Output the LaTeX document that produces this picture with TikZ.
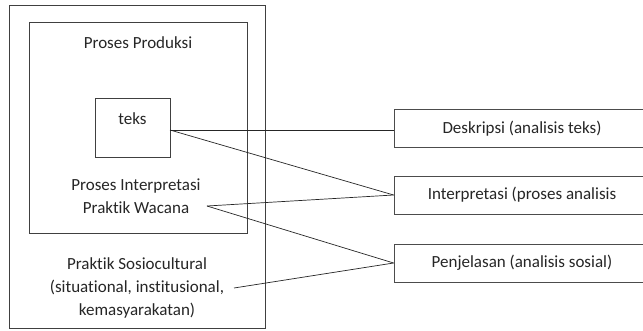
\documentclass[tikz,border=0pt]{standalone}
\usepackage{fontspec}
\setmainfont{Carlito}[Ligatures=NoCommon]
\begin{document}
\begin{tikzpicture}[x=1pt,y=-1pt,
  box/.style={draw=black!75,line width=0.8pt},
  lbl/.style={font=\fontsize{17}{23}\selectfont,text=black!85,inner sep=0pt,align=center},
  rbox/.style={draw=black!70,line width=0.8pt,minimum width=256pt,minimum height=38pt,inner sep=0pt,font=\fontsize{17}{19}\selectfont,text=black!85},
  conn/.style={draw=black!85,line width=0.7pt}]
\useasboundingbox (0,0) rectangle (643,330);
\clip (0,0) rectangle (643,330);
\fill[white] (0,0) rectangle (643,330);
% boxes
\draw[box] (9,5) rectangle (265,328);
\draw[box] (29,22) rectangle (247,233);
\node[box,minimum width=75pt,minimum height=59pt,inner sep=0pt] (teks) at (132.5,127.5) {};
\node[lbl] (teksT) at (132.5,119) {teks};
\node[lbl] (prod) at (138,43) {Proses Produksi};
\node[lbl] (interpT) at (136,196) {Proses Interpretasi\\Praktik Wacana};
\node[lbl] (socio) at (137,287.5) {Praktik Sosiocultural\\(situational, institusional,\hspace*{26pt}\\kemasyarakatan)};
% right boxes
\node[rbox] (desk) at (522,128.5) {Deskripsi (analisis teks)};
\node[rbox] (interp) at (522,195) {Interpretasi (proses analisis};
\node[rbox] (penj) at (522,263) {Penjelasan (analisis sosial)};
% connector anchors
\coordinate (t1) at (170,130);
\coordinate (w1) at (207,206);
\coordinate (s1) at (234,288);
\draw[conn] (t1) -- (desk.west |- t1);
\draw[conn] (t1) -- (interp.west);
\draw[conn] (w1) -- (interp.west);
\draw[conn] (w1) -- (penj.west);
\draw[conn] (s1) -- (penj.west);
\end{tikzpicture}
\end{document}
